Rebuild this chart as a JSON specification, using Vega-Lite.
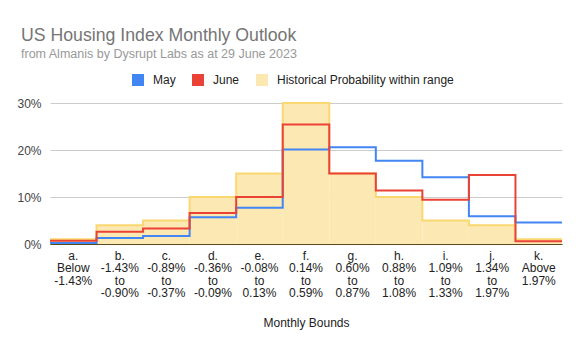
{
  "$schema": "https://vega.github.io/schema/vega-lite/v6.json",
  "autosize": "none",
  "width": 512,
  "height": 141,
  "padding": {"left": 50, "top": 103, "right": 20, "bottom": 106},
  "background": "white",
  "title": {
    "text": "US Housing Index Monthly Outlook",
    "subtitle": "from Almanis by Dysrupt Labs as at 29 June 2023",
    "anchor": "start",
    "frame": "group",
    "dx": -29,
    "offset": 14,
    "fontSize": 17.7,
    "fontWeight": "normal",
    "color": "#757575",
    "subtitleFontSize": 12.5,
    "subtitleColor": "#999999",
    "subtitlePadding": 3
  },
  "data": {
    "values": [
      {"cat": "a.|Below|-1.43%", "lo": 0, "hi": 1, "hist": 1, "May": 0.2, "June": 0.7},
      {"cat": "b.|-1.43%|to|-0.90%", "lo": 1, "hi": 2, "hist": 4, "May": 1.3, "June": 2.6},
      {"cat": "c.|-0.89%|to|-0.37%", "lo": 2, "hi": 3, "hist": 5, "May": 1.7, "June": 3.3},
      {"cat": "d.|-0.36%|to|-0.09%", "lo": 3, "hi": 4, "hist": 10, "May": 5.7, "June": 6.6},
      {"cat": "e.|-0.08%|to|0.13%", "lo": 4, "hi": 5, "hist": 15, "May": 7.7, "June": 10},
      {"cat": "f.|0.14%|to|0.59%", "lo": 5, "hi": 6, "hist": 30, "May": 20.1, "June": 25.4},
      {"cat": "g.|0.60%|to|0.87%", "lo": 6, "hi": 7, "hist": 15, "May": 20.6, "June": 15},
      {"cat": "h.|0.88%|to|1.08%", "lo": 7, "hi": 8, "hist": 10, "May": 17.7, "June": 11.4},
      {"cat": "i.|1.09%|to|1.33%", "lo": 8, "hi": 9, "hist": 5, "May": 14.2, "June": 9.4},
      {"cat": "j.|1.34%|to|1.97%", "lo": 9, "hi": 10, "hist": 4, "May": 5.9, "June": 14.7},
      {"cat": "k.|Above|1.97%", "lo": 10, "hi": 11, "hist": 1, "May": 4.6, "June": 0.6}
    ]
  },
  "layer": [
    {
      "mark": {"type": "bar", "strokeWidth": 0},
      "encoding": {
        "x": {
          "field": "cat",
          "type": "ordinal",
          "sort": null,
          "scale": {"paddingInner": 0, "paddingOuter": 0},
          "axis": {
            "title": "Monthly Bounds",
            "titleFontSize": 12,
            "titleFontWeight": "normal",
            "titleColor": "#222222",
            "titlePadding": 19,
            "labelExpr": "split(datum.label, '|')",
            "labelAngle": 0,
            "labelFontSize": 12,
            "labelColor": "#222222",
            "labelLineHeight": 12.5,
            "labelPadding": 6,
            "ticks": false,
            "domainColor": "#5a4a1e",
            "domainWidth": 1,
            "grid": false
          }
        },
        "y": {
          "field": "hist",
          "type": "quantitative",
          "scale": {"domain": [0, 30], "nice": false},
          "axis": {
            "title": null,
            "values": [0, 10, 20, 30],
            "labelExpr": "datum.value + '%'",
            "labelFontSize": 12,
            "labelColor": "#444444",
            "labelPadding": 9,
            "domain": false,
            "ticks": false,
            "gridColor": "#cccccc"
          }
        },
        "color": {
          "datum": "Historical Probability within range",
          "type": "nominal",
          "scale": {
            "domain": ["May", "June", "Historical Probability within range"],
            "range": ["#4285f4", "#ea4335", "#fce8b2"]
          },
          "legend": {
            "title": null,
            "orient": "none",
            "legendX": 82,
            "legendY": -29,
            "direction": "horizontal",
            "symbolType": "square",
            "symbolSize": 144,
            "symbolStrokeWidth": 0,
            "labelFontSize": 12,
            "labelColor": "#222222",
            "labelOffset": 9,
            "labelLimit": 0,
            "columnPadding": 16,
            "encode": {"symbols": {"update": {"fill": {"scale": "color", "field": "value"}, "opacity": {"value": 1}}}}
          }
        }
      }
    },
    {
      "transform": [{"fold": ["lo", "hi"], "as": ["edge", "pos"]}],
      "mark": {"type": "line", "color": "#fbd772", "strokeWidth": 2},
      "encoding": {
        "x": {"field": "pos", "type": "quantitative", "scale": {"domain": [0, 11], "nice": false}, "axis": null},
        "y": {"field": "hist", "type": "quantitative"},
        "order": [{"field": "pos", "type": "quantitative"}, {"field": "edge", "type": "nominal"}]
      }
    },
    {
      "transform": [
        {"fold": ["May", "June"], "as": ["series", "v"]},
        {"fold": ["lo", "hi"], "as": ["edge", "pos"]}
      ],
      "mark": {"type": "line", "strokeWidth": 2},
      "encoding": {
        "x": {"field": "pos", "type": "quantitative", "scale": {"domain": [0, 11], "nice": false}, "axis": null},
        "y": {"field": "v", "type": "quantitative"},
        "color": {
          "field": "series",
          "type": "nominal",
          "legend": {
            "title": null,
            "orient": "none",
            "legendX": 82,
            "legendY": -29,
            "direction": "horizontal",
            "symbolType": "square",
            "symbolSize": 144,
            "symbolStrokeWidth": 0,
            "labelFontSize": 12,
            "labelColor": "#222222",
            "labelOffset": 9,
            "labelLimit": 0,
            "columnPadding": 16,
            "encode": {"symbols": {"update": {"fill": {"scale": "color", "field": "value"}, "opacity": {"value": 1}}}}
          }
        },
        "order": [{"field": "pos", "type": "quantitative"}, {"field": "edge", "type": "nominal"}]
      }
    }
  ],
  "resolve": {"scale": {"x": "independent"}},
  "config": {
    "font": "Liberation Sans",
    "view": {"stroke": null}
  }
}
